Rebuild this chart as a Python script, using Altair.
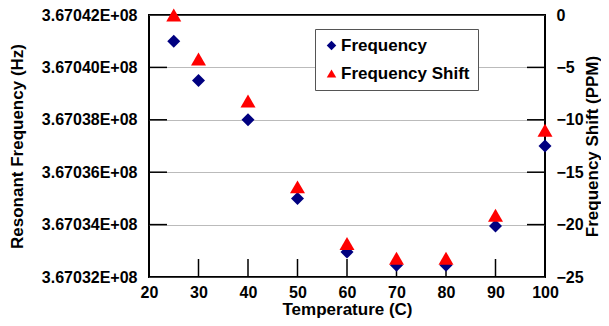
import altair as alt
import pandas as pd

# ---- data ----
temps = [25, 30, 40, 50, 60, 70, 80, 90, 100]
freq_hz = [367041000, 367039500, 367038000, 367035000, 367032950,
           367032450, 367032450, 367033950, 367037000]
shift_ppm = [0.0, -4.2, -8.2, -16.4, -21.8, -23.2, -23.2, -19.1, -11.0]
series = ["Frequency", "Frequency Shift"]

x_ticks = [20, 30, 40, 50, 60, 70, 80, 90, 100]
x_inner_ticks = [30, 40, 50, 60, 70, 80, 90]
freq_ticks = [367032000, 367034000, 367036000, 367038000, 367040000, 367042000]
shift_ticks = [0, -5, -10, -15, -20, -25]

W, H = 396, 262
FONT = "Liberation Sans"

df_f = pd.DataFrame({"temp": temps, "value": freq_hz, "series": series[0]})
df_s = pd.DataFrame({"temp": temps, "value": shift_ppm, "series": series[1]})
df_xt = pd.DataFrame({"temp": x_inner_ticks})
df_ft = pd.DataFrame({"value": freq_ticks[1:-1]})
df_st = pd.DataFrame({"value": shift_ticks[1:-1]})

x_enc = alt.X("temp:Q",
              scale=alt.Scale(domain=[20, 100], nice=False, zero=False),
              axis=alt.Axis(values=x_ticks, title="Temperature (C)", tickSize=0,
                            labelPadding=7, labelFlush=False, domain=False,
                            grid=False, titleY=37, titleBaseline="alphabetic"))

y_freq = alt.Y("value:Q",
               scale=alt.Scale(domain=[367032000, 367042000], nice=False, zero=False),
               axis=alt.Axis(orient="left", values=freq_ticks,
                             labelExpr="format(datum.value/1e8,'.5f')+'E+08'",
                             tickSize=0, labelPadding=12, labelFlush=False,
                             domain=False,
                             grid=True, gridDash=[1, 1], gridColor="#777777",
                             gridWidth=1,
                             title="Resonant Frequency (Hz)", titleX=-132, titleY=131,
                             titleAngle=270, titleAlign="center",
                             titleBaseline="middle"))

y_shift = alt.Y("value:Q",
                scale=alt.Scale(domain=[-25, 0], nice=False, zero=False),
                axis=alt.Axis(orient="right", values=shift_ticks, format="d",
                              tickSize=0, labelPadding=11, labelFlush=False,
                              domain=False, grid=False,
                              title="Frequency Shift (PPM)", titleX=52, titleY=131,
                              titleAngle=270, titleAlign="center",
                              titleBaseline="alphabetic"))

legend = alt.Legend(title=None, orient="none", legendX=166, legendY=14,
                    strokeColor="#555555", fillColor="white", padding=8,
                    labelFont=FONT, labelFontSize=17, labelFontWeight="bold",
                    labelColor="black", symbolSize=90, symbolStrokeWidth=0,
                    rowPadding=10, labelOffset=1)

color = alt.Color("series:N",
                  scale=alt.Scale(domain=series, range=["#000080", "#ff0000"]),
                  legend=legend)
shape = alt.Shape("series:N",
                  scale=alt.Scale(domain=series, range=["diamond", "triangle-up"]),
                  legend=legend)

freq_pts = alt.Chart(df_f).mark_point(filled=True, size=169, opacity=1).encode(
    x=x_enc, y=y_freq, color=color, shape=shape)

shift_pts = alt.Chart(df_s).mark_point(filled=True, size=225, opacity=1).encode(
    x=x_enc, y=y_shift, color=color, shape=shape)

left_ticks = alt.Chart(df_ft).mark_rule(color="black", strokeWidth=1.5).encode(
    y=y_freq, x=alt.value(0), x2=alt.value(18))

bottom_ticks = alt.Chart(df_xt).mark_rule(color="black", strokeWidth=1.5).encode(
    x=x_enc, y=alt.value(H - 18), y2=alt.value(H))

right_ticks = alt.Chart(df_st).mark_rule(color="black", strokeWidth=1.5).encode(
    y=y_shift, x=alt.value(W - 18), x2=alt.value(W))

inner_left = alt.layer(left_ticks, bottom_ticks, freq_pts)
inner_right = alt.layer(right_ticks, shift_pts)

chart = alt.layer(inner_left, inner_right).resolve_scale(
    y="independent"
).properties(
    width=W, height=H, autosize="none",
    padding={"left": 141, "top": 7, "right": 56, "bottom": 41},
).configure_view(
    stroke="black", strokeWidth=2
).configure_axis(
    labelFont=FONT, labelFontSize=16, labelFontWeight="bold", labelColor="black",
    titleFont=FONT, titleFontSize=17, titleFontWeight="bold", titleColor="black",
)

chart.save("out.html", embed_options={"renderer": "svg", "actions": False})
